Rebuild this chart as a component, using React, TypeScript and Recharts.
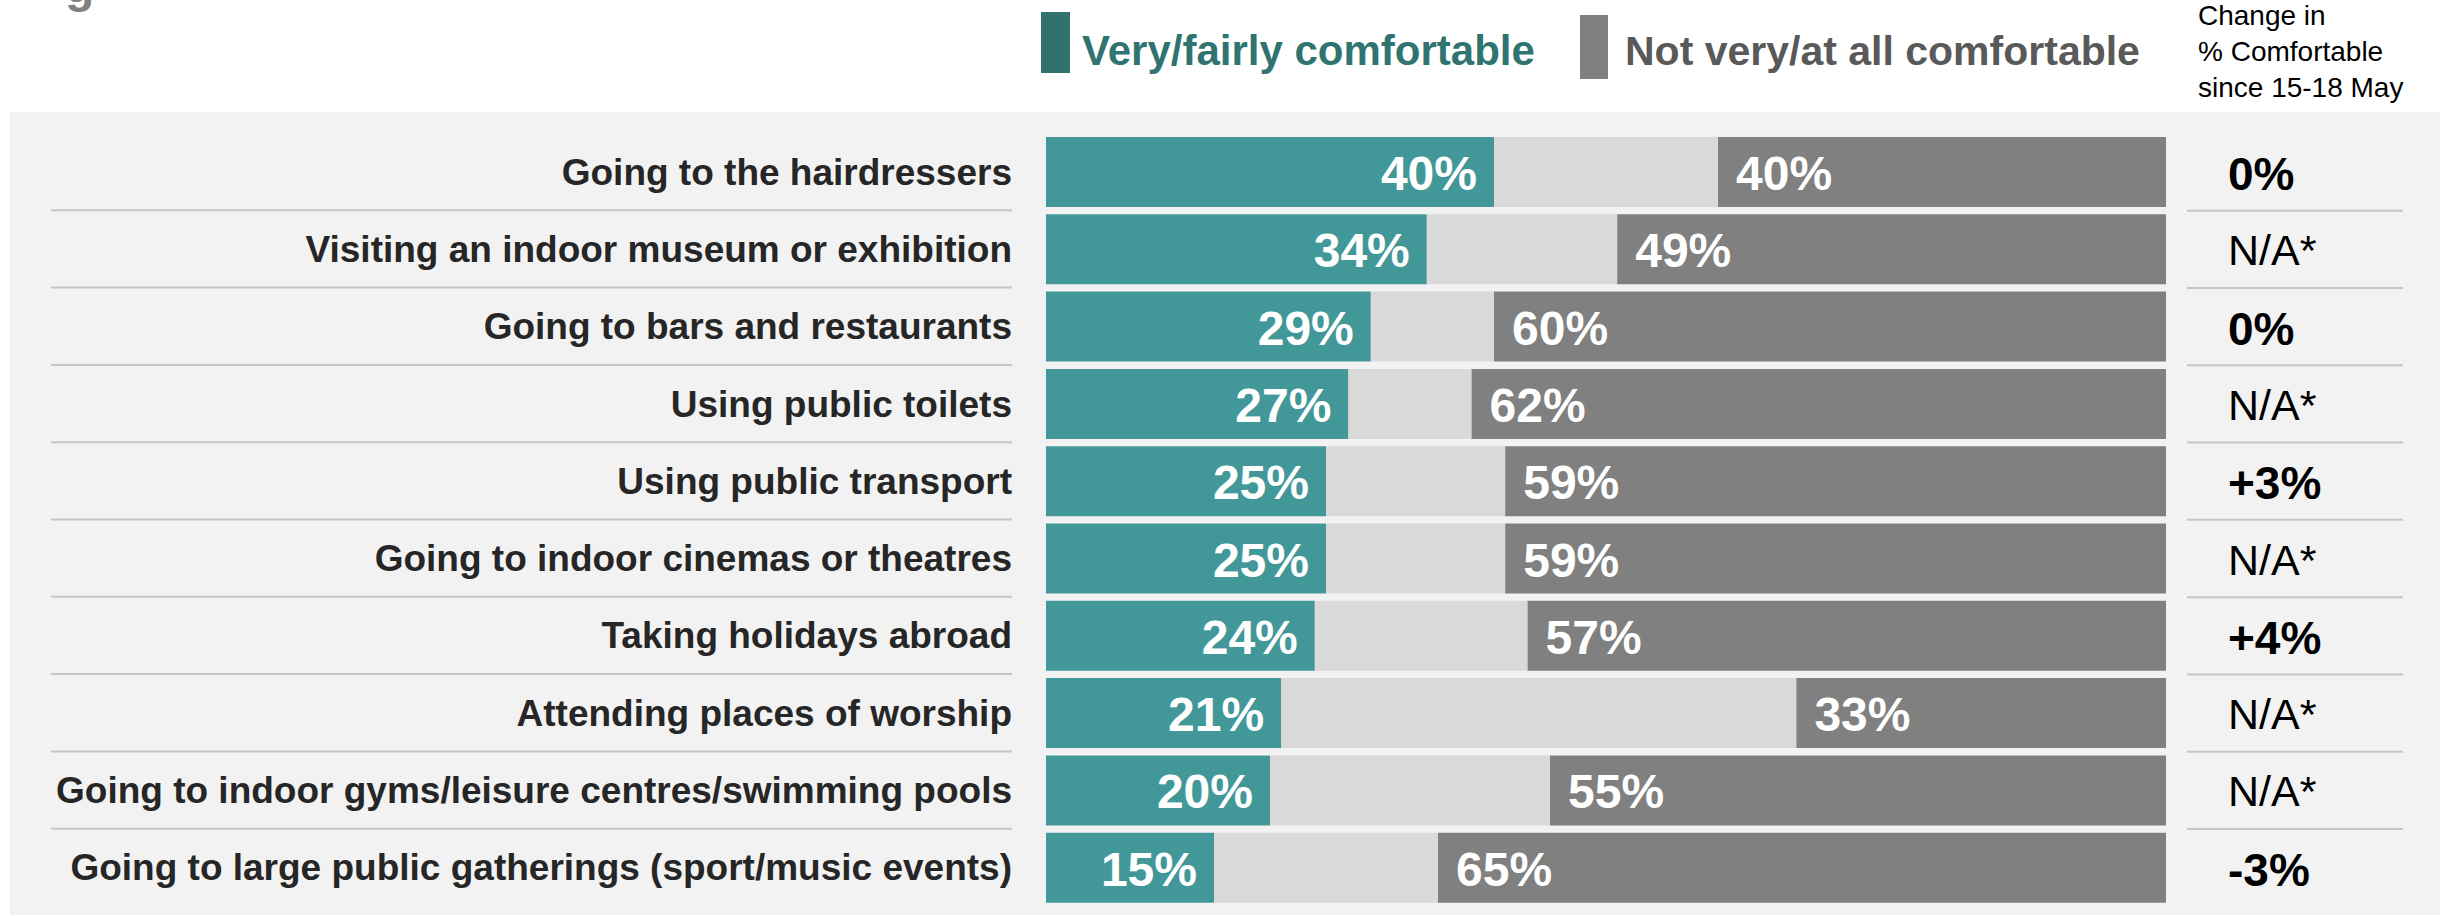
import { BarChart, Bar, XAxis, YAxis, LabelList } from "recharts";

const categories = [
  "Going to the hairdressers",
  "Visiting an indoor museum or exhibition",
  "Going to bars and restaurants",
  "Using public toilets",
  "Using public transport",
  "Going to indoor cinemas or theatres",
  "Taking holidays abroad",
  "Attending places of worship",
  "Going to indoor gyms/leisure centres/swimming pools",
  "Going to large public gatherings (sport/music events)",
];
const comfortable = [40, 34, 29, 27, 25, 25, 24, 21, 20, 15];
const notComfortable = [40, 49, 60, 62, 59, 59, 57, 33, 55, 65];
const changeSince = ["0%", "N/A*", "0%", "N/A*", "+3%", "N/A*", "+4%", "N/A*", "N/A*", "-3%"];

const rows = categories.map((name, i) => ({
  name,
  comf: comfortable[i],
  rest: 100 - comfortable[i] - notComfortable[i],
  not: notComfortable[i],
  change: changeSince[i],
}));

const W = 2440;
const H = 916;
const MARGIN = { top: 133, right: 274, bottom: 10, left: 0 };
const BAND = (H - MARGIN.top - MARGIN.bottom) / rows.length;

const TEAL = "#429899";
const TEAL_DARK = "#31726f";
const GRAY = "#808080";
const LIGHT = "#d9d9d9";
const FONT = "'Liberation Sans', Arial, sans-serif";

const CategoryTick = (props: any) => {
  const { y, payload } = props;
  const i = payload?.index ?? props.index ?? 0;
  return (
    <g>
      <text x={1012} y={y + 13} textAnchor="end" fill="#262626" fontSize={37} fontWeight="bold" fontFamily={FONT}>
        {payload.value}
      </text>
      {i < rows.length - 1 && (
        <line x1={51} x2={1012} y1={y + BAND / 2} y2={y + BAND / 2} stroke="#c6c6c6" strokeWidth={2} />
      )}
    </g>
  );
};

const ComfLabel = (props: any) => {
  const { x, y, width, height, value } = props;
  return (
    <text x={x + width - 17} y={y + height / 2 + 18} textAnchor="end" fill="#fff" fontSize={48} fontWeight="bold" fontFamily={FONT}>
      {value}%
    </text>
  );
};

const NotLabel = (props: any) => {
  const { x, y, height, value } = props;
  return (
    <text x={x + 18} y={y + height / 2 + 18} textAnchor="start" fill="#fff" fontSize={48} fontWeight="bold" fontFamily={FONT}>
      {value}%
    </text>
  );
};

const ChangeLabel = (props: any) => {
  const { x, y, width, height, value, index } = props;
  const na = String(value).startsWith("N/A");
  const cy = y + height / 2;
  return (
    <g>
      <text
        x={x + width + 62}
        y={cy + (na ? 16 : 18)}
        fill="#000"
        fontSize={na ? 43 : 46}
        fontWeight={na ? "normal" : "bold"}
        fontFamily={FONT}
      >
        {value}
      </text>
      {index < rows.length - 1 && (
        <line x1={2187} x2={2403} y1={cy + BAND / 2} y2={cy + BAND / 2} stroke="#c6c6c6" strokeWidth={2} />
      )}
    </g>
  );
};

const Header = () => (
  <svg width={W} height={112} style={{ position: "absolute", left: 0, top: 0 }}>
    {/* descender of a title line that is cropped off above the picture */}
    <text x={65} y={2} fill={GRAY} fontSize={48} fontWeight="bold" fontFamily={FONT}>g</text>
    <rect x={1041} y={12} width={29} height={61} fill={TEAL_DARK} />
    <text x={1082} y={65} fill="#2f7471" fontSize={42} fontWeight="bold" fontFamily={FONT}>
      Very/fairly comfortable
    </text>
    <rect x={1580} y={15} width={28} height={64} fill={GRAY} />
    <text x={1625} y={65} fill="#595959" fontSize={41} fontWeight="bold" fontFamily={FONT}>
      Not very/at all comfortable
    </text>
    <text x={2198} fill="#000" fontSize={28} fontFamily={FONT}>
      <tspan x={2198} y={25}>Change in</tspan>
      <tspan x={2198} y={61}>% Comfortable</tspan>
      <tspan x={2198} y={97}>since 15-18 May</tspan>
    </text>
  </svg>
);

export default function App() {
  return (
    <div style={{ position: "absolute", left: 0, top: 0, width: W, height: H, background: "#fff", overflow: "hidden" }}>
      <div style={{ position: "absolute", left: 10, top: 112, width: W - 10, height: 803, background: "#f2f2f2" }} />
      <Header />
      <div style={{ position: "absolute", left: 0, top: 0 }}>
        <BarChart width={W} height={H} data={rows} layout="vertical" margin={MARGIN} barSize={70}>
          <XAxis type="number" domain={[0, 100]} hide />
          <YAxis
            type="category"
            dataKey="name"
            width={1046}
            axisLine={false}
            tickLine={false}
            tick={CategoryTick}
            interval={0}
          />
          <Bar dataKey="comf" stackId="a" fill={TEAL} isAnimationActive={false}>
            <LabelList dataKey="comf" content={ComfLabel} />
          </Bar>
          <Bar dataKey="rest" stackId="a" fill={LIGHT} isAnimationActive={false} />
          <Bar dataKey="not" stackId="a" fill={GRAY} isAnimationActive={false}>
            <LabelList dataKey="not" content={NotLabel} />
            <LabelList dataKey="change" content={ChangeLabel} />
          </Bar>
        </BarChart>
      </div>
    </div>
  );
}
